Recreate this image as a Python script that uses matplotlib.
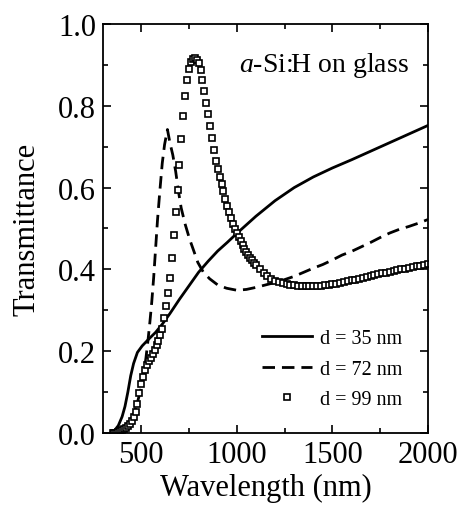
import matplotlib
matplotlib.use("Agg")
import matplotlib.pyplot as plt
from matplotlib.ticker import MultipleLocator

plt.rcParams["font.family"] = ["Liberation Serif", "DejaVu Serif"]
plt.rcParams["mathtext.fontset"] = "custom"
plt.rcParams["mathtext.rm"] = "Liberation Serif"
plt.rcParams["mathtext.it"] = "Liberation Serif:italic"

# ---------- data -------------------------------------------------------------
wl_35 = [350, 380, 400, 415, 430, 445, 460, 480, 505, 540, 575, 610, 650, 700,
         750, 800, 850, 900, 950, 1000, 1100, 1200, 1300, 1400, 1500, 1600,
         1700, 1800, 1900, 2000]
t_35 = [0.0, 0.018, 0.04, 0.065, 0.10, 0.14, 0.17, 0.197, 0.213, 0.23, 0.246,
        0.266, 0.292, 0.327, 0.36, 0.393, 0.42, 0.445, 0.466, 0.488, 0.53,
        0.568, 0.60, 0.626, 0.648, 0.668, 0.689, 0.71, 0.731, 0.752]

wl_72 = [380, 400, 420, 440, 460, 480, 500, 515, 525, 535, 545, 555, 565, 575,
         585, 597, 610, 622, 637, 650, 665, 680, 695, 709, 730, 753, 775, 796,
         825, 858, 900, 946, 1000, 1050, 1100, 1150, 1200, 1250, 1300, 1350,
         1400, 1450, 1500, 1550, 1600, 1650, 1700, 1750, 1800, 1850, 1900, 1950,
         2000]
t_72 = [0.0, 0.005, 0.012, 0.025, 0.045, 0.075, 0.11, 0.15, 0.185, 0.225,
        0.27, 0.32, 0.38, 0.45, 0.52, 0.59, 0.66, 0.705, 0.742, 0.71, 0.68,
        0.64, 0.59, 0.55, 0.51, 0.474, 0.445, 0.417, 0.393, 0.377, 0.362,
        0.354, 0.349, 0.351, 0.356, 0.362, 0.368, 0.375, 0.383, 0.393, 0.403,
        0.412, 0.423, 0.435, 0.444, 0.455, 0.466, 0.478, 0.489, 0.498, 0.505,
        0.513, 0.522]

wl_99 = [350, 360, 370, 380, 390, 400, 410, 420, 430, 440, 450, 460, 470, 480,
         490, 500, 510, 520, 530, 540, 550, 560, 570, 580, 590, 600, 610, 620,
         630, 640, 650, 660, 670, 680, 690, 700, 710, 720, 730, 740, 750, 760,
         770, 780, 790, 800, 810, 820, 830, 840, 850, 860, 870, 880, 890, 900,
         910, 920, 930, 940, 950, 960, 970, 980, 990, 1000, 1010, 1020, 1030,
         1040, 1050, 1060, 1070, 1080, 1090, 1100, 1120, 1140, 1160, 1180, 1200,
         1220, 1240, 1260, 1280, 1300, 1320, 1340, 1360, 1380, 1400, 1420, 1440,
         1460, 1480, 1500, 1520, 1540, 1560, 1580, 1600, 1620, 1640, 1660, 1680,
         1700, 1720, 1740, 1760, 1780, 1800, 1820, 1840, 1860, 1880, 1900, 1920,
         1940, 1960, 1980, 2000]
t_99 = [0.0, 0.0, 0.001, 0.003, 0.006, 0.008, 0.010, 0.012, 0.016, 0.022,
        0.030, 0.038, 0.051, 0.072, 0.097, 0.120, 0.138, 0.153, 0.166, 0.176,
        0.184, 0.194, 0.204, 0.214, 0.226, 0.240, 0.254, 0.280, 0.310, 0.343,
        0.380, 0.428, 0.485, 0.540, 0.595, 0.655, 0.720, 0.775, 0.825, 0.862,
        0.890, 0.907, 0.915, 0.916, 0.913, 0.905, 0.888, 0.864, 0.836, 0.808,
        0.780, 0.750, 0.721, 0.693, 0.666, 0.646, 0.627, 0.610, 0.592, 0.573,
        0.555, 0.541, 0.525, 0.512, 0.499, 0.489, 0.480, 0.470, 0.460, 0.450,
        0.442, 0.435, 0.428, 0.422, 0.416, 0.410, 0.400, 0.391, 0.383, 0.377,
        0.372, 0.368, 0.366, 0.364, 0.362, 0.361, 0.360, 0.360, 0.359, 0.359,
        0.359, 0.360, 0.360, 0.361, 0.362, 0.364, 0.365, 0.367, 0.369, 0.371,
        0.373, 0.375, 0.377, 0.379, 0.381, 0.384, 0.386, 0.388, 0.390, 0.392,
        0.394, 0.396, 0.398, 0.400, 0.402, 0.404, 0.406, 0.408, 0.409, 0.410,
        0.412]

labels = ["d = 35 nm", "d = 72 nm", "d = 99 nm"]

# ---------- figure ------------------------------------------------------------
fig = plt.figure(figsize=(4.59, 5.06), dpi=100)
ax = fig.add_axes([0.2244, 0.1423, 0.7081, 0.8083])

ax.plot(wl_35, t_35, color="black", lw=2.0, label=labels[0])
ax.plot(wl_72, t_72, color="black", lw=2.0, dashes=(4.5, 2.5), label=labels[1])
ax.plot(wl_99, t_99, ls="none", marker="s", ms=4.2, mfc="white", mec="black",
        mew=1.2, label=labels[2])

ax.set_xlim(300, 2000)
ax.set_ylim(0, 1.0)
ax.xaxis.set_major_locator(MultipleLocator(500))
ax.xaxis.set_minor_locator(MultipleLocator(250))
ax.yaxis.set_major_locator(MultipleLocator(0.2))
ax.yaxis.set_minor_locator(MultipleLocator(0.1))
ax.yaxis.set_major_formatter(plt.FuncFormatter(lambda v, p: f"{v:.1f}"))

ax.tick_params(which="both", direction="in", top=True, right=True,
               width=1.2, labelsize=22, colors="black")
ax.tick_params(which="major", length=6, pad=5)
ax.tick_params(which="minor", length=3.5)
for s in ax.spines.values():
    s.set_linewidth(1.3)

ax.set_xlabel("Wavelength (nm)", fontsize=22, labelpad=3)
ax.set_ylabel("Transmittance", fontsize=22, labelpad=12)

ax.text(1900, 0.90, r"$\mathit{a}$-Si:H on glass", fontsize=20,
        ha="right", va="center")

leg = ax.legend(loc="upper left", bbox_to_anchor=(0.489, 0.255), frameon=False,
                fontsize=14.5, handlelength=2.5, handletextpad=0.4,
                labelspacing=0.58, borderpad=0, borderaxespad=0,
                numpoints=1)

fig.savefig("out.png", dpi=100)
